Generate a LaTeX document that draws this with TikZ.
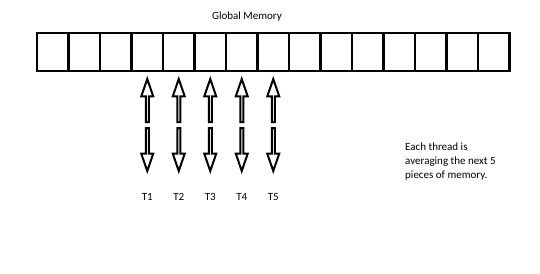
\documentclass[tikz,border=0pt]{standalone}
\usepackage{fontspec}
\setmainfont{Carlito}
\usetikzlibrary{positioning,shapes.arrows}
\tikzset{
  memcell/.style={
    draw, line width=2.4pt, minimum width=31.5pt, minimum height=38pt,
    inner sep=0pt, outer sep=0pt
  },
  blockarrow/.style={
    single arrow, draw, line width=2pt, fill=white,
    minimum height=43pt, minimum width=12pt, inner sep=0pt, outer sep=0pt,
    single arrow head extend=3pt, single arrow tip angle=38
  },
  uparrow/.style={blockarrow, shape border rotate=90},
  downarrow/.style={blockarrow, shape border rotate=270},
  txt/.style={font=\fontsize{11}{14}\selectfont, inner sep=0pt},
  tlabel/.style={txt},
  note/.style={txt, align=left, anchor=north west}
}
\begin{document}
\begin{tikzpicture}[x=1pt,y=-1pt]
  \useasboundingbox (0,0) rectangle (540,273);
  % memory row
  \foreach \i in {1,...,15}
    \node[memcell] (cell\i) at ({37+31.5*(\i-0.5)},52) {};
  \node[txt] (title) at (247,17) {Global Memory};
  % threads
  \foreach \t [evaluate=\t as \c using int(\t+3)] in {1,...,5} {
    \node[uparrow, below=8pt of cell\c] (up\t) {};
    \node[downarrow, below=6pt of up\t] (down\t) {};
    \node[tlabel, below=22pt of down\t] (t\t) {T\t};
  }
  \node[note] (note) at (405,143) {Each thread is\\averaging the next 5\\pieces of memory.};
\end{tikzpicture}
\end{document}
